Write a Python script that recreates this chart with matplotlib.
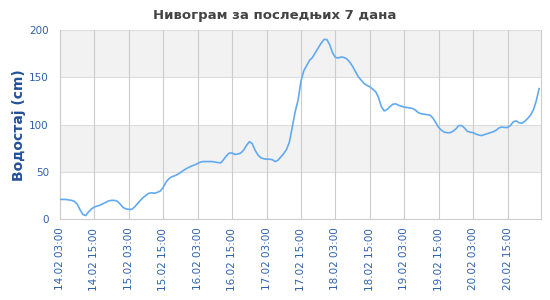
import matplotlib
matplotlib.use("Agg")
import matplotlib.pyplot as plt
import matplotlib.dates as mdates
import numpy as np
import pandas as pd

start = "2024-02-14 03:00"
levels = [
    21, 21, 21, 20.5, 20, 19, 16, 10, 5, 4, 8, 11,
    13, 14, 15, 16.5, 18, 19.5, 20, 20, 19, 16, 12.5, 11,
    10.5, 10.5, 13, 16.5, 20, 23, 25.5, 27.5, 28, 27.5, 28.5, 30,
    34, 39.5, 43, 45, 46, 47.5, 49.5, 51.5, 53.5, 55, 56.5, 57.5,
    59, 60.5, 61, 61, 61, 61, 60.5, 60, 59.5, 63, 67, 70,
    70, 68.5, 69, 70, 73, 78, 82, 80, 73, 68, 65, 64,
    63.5, 63.5, 63, 61, 62.5, 66, 69.5, 74, 82, 98, 114, 126,
    146, 157, 162.5, 168, 171, 176, 181, 186, 190, 190, 184.5, 176,
    171, 170.5, 171.5, 171, 169.5, 166, 161.5, 156, 150.5, 147, 143.5, 141.5,
    140, 137.5, 135, 129, 119, 114.5, 116, 119, 121.5, 122, 120.5, 119.5,
    118.5, 118, 117.5, 117, 115, 112.5, 111.5, 111, 110.5, 110, 107, 102,
    97, 94, 92, 91.5, 91.5, 93, 95.5, 99, 99, 96.5, 93, 92,
    91.5, 90, 89, 88.5, 89.5, 90.5, 91.5, 92.5, 94, 96.5, 97.5, 97,
    97, 99, 103, 104, 102, 101.5, 103.5, 106.5, 110, 115.5, 125, 138,
]
times = pd.date_range(start, periods=len(levels), freq="h")
tick_times = pd.date_range(start, periods=14, freq="12h")
tick_labels = [t.strftime("%d.%m %H:%M") for t in tick_times]

title = "Нивограм за последњих 7 дана"
ylabel = "Водостај (cm)"

plt.rcParams['font.family'] = ['DejaVu Sans']
fig = plt.figure(figsize=(5.5, 3.0), dpi=100)
ax = fig.add_axes([60/550, 1-219.3/300, (541-60)/550, (219.3-30)/300])

tick_color = "#2e60aa"
grid_color = "#cccccc"

ax.axhspan(150, 200, color="#f2f2f2", zorder=0, lw=0)
ax.axhspan(50, 100, color="#f2f2f2", zorder=0, lw=0)
for yv in [50, 100, 150, 200]:
    ax.axhline(yv, color="#dddddd", lw=0.8, zorder=1)
for t in tick_times:
    ax.axvline(t, color=grid_color, lw=0.8, zorder=1)

ax.plot(times, levels, color="#62aaf0", lw=1.2, zorder=3)

ax.set_xlim(times[0], times[-1] + pd.Timedelta(minutes=40))
ax.set_ylim(0, 200)
ax.set_yticks([0, 50, 100, 150, 200])
ax.set_xticks(tick_times)
ax.set_xticklabels(tick_labels, rotation=90)
ax.tick_params(axis="both", length=0, colors=tick_color, labelsize=7.5)
ax.tick_params(axis="x", pad=6)
ax.tick_params(axis="y", pad=8)
for s in ax.spines.values():
    s.set_color(grid_color)
    s.set_linewidth(0.8)
ax.spines['top'].set_visible(False)

ax.set_ylabel(ylabel, color="#22509a", fontsize=10, fontweight="bold", labelpad=2)
fig.text(0.5, 0.95, title, ha="center", va="center", fontsize=9.5,
         fontweight="bold", color="#444444")

fig.savefig("out.png", dpi=100)
